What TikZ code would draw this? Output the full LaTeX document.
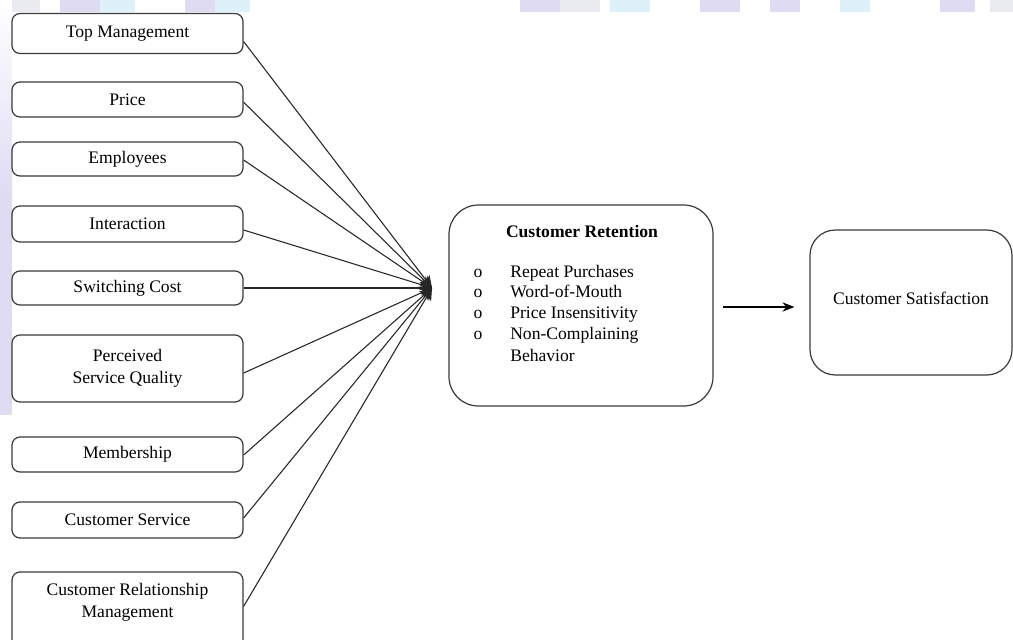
\documentclass[tikz,border=0pt]{standalone}
\usepackage{fontspec}
\setmainfont{Liberation Serif}
\usetikzlibrary{arrows.meta}
\definecolor{lav}{HTML}{DEDBF3}
\definecolor{cyn}{HTML}{DCF1FA}
\definecolor{gry}{HTML}{EAEAF1}
\definecolor{edge}{HTML}{3A3A3A}
\begin{document}
\begin{tikzpicture}[x=0.75pt,y=-0.75pt,
  font=\fontsize{13.2}{16.5}\selectfont,
  box/.style={draw=edge, line width=0.9pt, rounded corners=6pt, minimum width=173.25pt, inner sep=0pt, align=center},
  bigbox/.style={draw=edge, line width=0.9pt, inner sep=0pt},
  fan/.style={draw=black!85, line width=0.8pt, -{Stealth[length=9pt,width=9pt]}},
  link/.style={draw=black, line width=0.9pt, -{Stealth[length=9pt,width=7pt]}},
  txt/.style={inner sep=0pt, text height=9pt, text depth=3pt},
  lbl/.style={txt, anchor=west},
]
\clip (0,0) rectangle (1013,639);
\fill[white] (0,0) rectangle (1013,639);
% faint watermark remnants
\fill[gry] (0,0) rectangle (40,12);
\fill[lav] (60,0) rectangle (100,12);
\fill[cyn] (100,0) rectangle (135,12);
\fill[lav] (185,0) rectangle (215,12);
\fill[cyn] (215,0) rectangle (250,12);
\fill[lav] (520,0) rectangle (560,12);
\fill[gry] (560,0) rectangle (600,12);
\fill[cyn] (610,0) rectangle (650,12);
\fill[lav] (700,0) rectangle (740,12);
\fill[lav] (770,0) rectangle (800,12);
\fill[cyn] (840,0) rectangle (870,12);
\fill[lav] (940,0) rectangle (975,12);
\fill[gry] (990,0) rectangle (1013,12);
\shade[top color=white, bottom color=lav] (0,0) rectangle (12,200);
\fill[lav] (0,200) rectangle (12,415);

% left factor boxes
\node[box, minimum height=30pt]    (tm)  at (127.5,33.5) {Top Management};
\node[box, minimum height=26.25pt] (pr)  at (127.5,99.5) {Price};
\node[box, minimum height=25.5pt]  (em)  at (127.5,159) {Employees};
\node[box, minimum height=27pt]    (in)  at (127.5,224) {Interaction};
\node[box, minimum height=25.5pt]  (sw)  at (127.5,288) {Switching Cost};
\node[box, minimum height=50.25pt] (psq) at (127.5,368.5) {Perceived\\Service Quality};
\node[box, minimum height=26.25pt] (mem) at (127.5,454.5) {Membership};
\node[box, minimum height=27pt]    (cs)  at (127.5,520) {Customer Service};
\node[box, minimum height=60pt]    (crm) at (127.5,612) {};
\node[inner sep=0pt, align=center] (crmt) at (127.5,602) {Customer Relationship\\Management};

% hub where all arrows meet
\coordinate (hub) at (432,288);
\draw[fan] ([yshift=-6pt]tm.east) -- (hub);
\draw[fan] ([yshift=-2pt]pr.east) -- (hub);
\draw[fan] ([yshift=-0.75pt]em.east) -- (hub);
\draw[fan] ([yshift=-4.5pt]in.east) -- (hub);
\draw[fan] (sw.east) -- (hub);
\draw[fan] ([yshift=-3.4pt]psq.east) -- (hub);
\draw[fan] ([yshift=-0.4pt]mem.east) -- (hub);
\draw[fan] ([yshift=1.5pt]cs.east) -- (hub);
\draw[fan] ([yshift=-26.25pt]crm.north east) -- (hub);

% customer retention
\node[bigbox, rounded corners=22pt, minimum width=198pt, minimum height=150.75pt] (cr) at (581,305.5) {};
\node[txt, font=\fontsize{13.2}{16.5}\selectfont\bfseries] (crt) at (582,233) {Customer Retention};
\node[txt] (b1) at (478,273) {o};
\node[txt] (b2) at (478,293) {o};
\node[txt] (b3) at (478,314) {o};
\node[txt] (b4) at (478,335) {o};
\node[lbl] (i1) at (510,273) {Repeat Purchases};
\node[lbl] (i2) at (510,293) {Word-of-Mouth};
\node[lbl] (i3) at (510,314) {Price Insensitivity};
\node[lbl] (i4) at (510,335) {Non-Complaining};
\node[lbl] (i5) at (510,357) {Behavior};

% customer satisfaction
\node[bigbox, rounded corners=19pt, minimum width=151.5pt, minimum height=108.75pt] (csat) at (911,302.5) {};
\node[txt] (csatt) at (911,300) {Customer Satisfaction};

\draw[link, shorten <=6.75pt, shorten >=11.25pt] (cr.east |- 0,307) -- (csat.west |- 0,307);
\end{tikzpicture}
\end{document}
